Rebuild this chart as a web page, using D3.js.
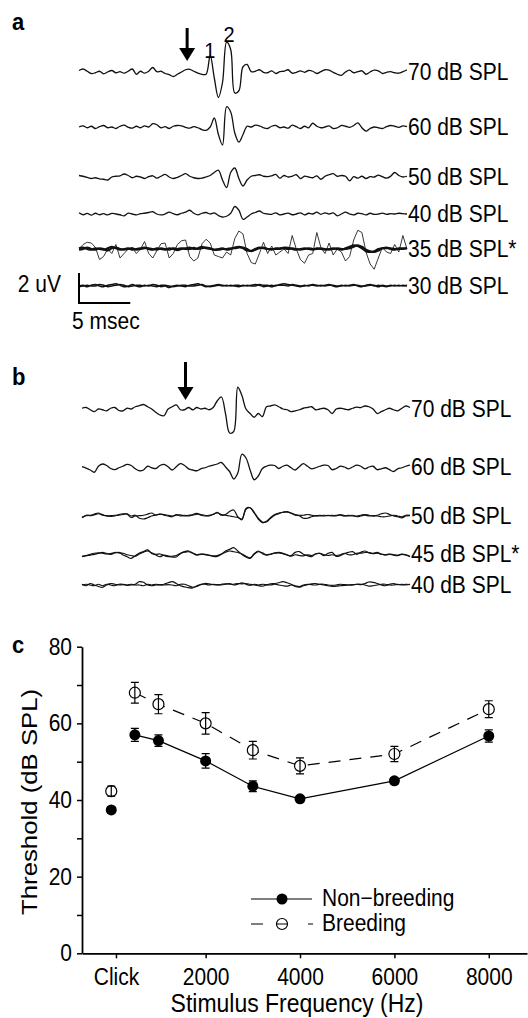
<!DOCTYPE html>
<html>
<head>
<meta charset="utf-8">
<script src="https://cdn.jsdelivr.net/npm/d3@7"></script>
<style>
  body { margin: 0; background: #fff; }
  svg { display: block; font-family: "Liberation Sans", Arial, sans-serif; }
</style>
</head>
<body>
<svg id="chart" width="528" height="1018"></svg>
<script>
// ABR traces: one value (uV) every 0.4 ms, 0..32 ms
const sampleStep = 0.4;

const levelsA = ["70 dB SPL", "60 dB SPL", "50 dB SPL", "40 dB SPL", "35 dB SPL*", "30 dB SPL"];
const levelsB = ["70 dB SPL", "60 dB SPL", "50 dB SPL", "45 dB SPL*", "40 dB SPL"];

const a70 = [0.10, 0.20, 0.05, -0.10, -0.05, 0.05, -0.12, 0.00, 0.10, -0.05,
  0.02, -0.08, 0.05, 0.20, -0.15, 0.05, -0.08, 0.05, 0.30, 0.02,
  0.05, -0.10, -0.18, -0.30, -0.15, 0.00, 0.15, 0.18, 0.05, -0.08,
  -0.16, -0.15, 1.10, -0.40, -1.70, -0.70, 2.00, 1.50, -1.40, -1.25,
  0.35, 0.50, 0.02, 0.05, 0.15, -0.02, -0.05, 0.08, -0.10, 0.02,
  0.05, 0.15, -0.08, -0.02, 0.08, -0.02, 0.10, 0.05, -0.10, 0.02,
  0.15, 0.12, -0.02, -0.15, -0.22, 0.00, 0.12, -0.05, 0.02, 0.08,
  -0.15, 0.00, 0.12, 0.08, -0.10, -0.02, 0.02, -0.05, -0.08, 0.02, 0.15];
const a60 = [0.00, 0.08, -0.05, 0.05, -0.10, 0.02, 0.10, -0.05, 0.00, -0.10,
  0.05, 0.12, -0.02, -0.08, 0.05, -0.05, 0.08, 0.00, 0.22, 0.15,
  -0.05, 0.02, -0.10, 0.05, 0.10, 0.08, -0.02, -0.08, 0.02, -0.05,
  -0.18, -0.22, 0.00, 0.60, -0.50, -1.20, 1.35, 1.00, -0.40, -1.00,
  -0.50, 0.05, 0.00, 0.12, 0.08, -0.05, -0.10, 0.05, 0.10, -0.05,
  0.00, -0.08, 0.12, 0.02, -0.10, 0.05, -0.05, 0.25, 0.05, -0.05,
  0.00, 0.08, -0.10, -0.05, 0.10, 0.05, -0.02, 0.10, 0.28, -0.05,
  -0.28, -0.10, 0.00, -0.05, -0.10, 0.02, 0.10, 0.05, -0.02, 0.08, 0.02];
const a50 = [0.10, 0.05, -0.02, -0.10, -0.05, -0.12, -0.15, -0.20, 0.00, 0.05,
  0.08, 0.20, 0.10, -0.05, 0.05, 0.00, -0.10, 0.02, 0.08, -0.08,
  0.05, 0.18, 0.00, -0.10, -0.02, 0.10, 0.22, 0.05, -0.05, -0.10,
  -0.08, 0.00, 0.10, 0.30, 0.45, -0.20, -0.70, 0.30, 0.60, -0.10,
  -0.60, -0.20, 0.05, 0.10, 0.15, 0.05, 0.02, 0.08, 0.18, -0.08,
  0.10, 0.00, 0.05, 0.15, -0.10, 0.05, 0.00, -0.05, 0.08, -0.15,
  0.05, 0.15, 0.22, 0.05, 0.10, 0.05, -0.25, 0.02, -0.08, 0.05,
  -0.10, 0.02, 0.00, 0.12, 0.02, -0.08, 0.05, 0.30, 0.10, 0.00, 0.05];
const a40 = [0.08, -0.05, 0.04, -0.08, 0.05, -0.05, 0.02, -0.06, 0.04, 0.00,
  -0.05, -0.12, 0.06, 0.00, -0.06, 0.02, 0.05, 0.10, 0.15, 0.00,
  -0.06, 0.00, 0.12, 0.02, -0.05, 0.05, 0.12, 0.25, 0.05, -0.06,
  0.05, 0.10, 0.00, 0.08, -0.10, -0.20, -0.15, 0.05, 0.50, 0.25,
  -0.35, -0.20, 0.00, 0.10, 0.20, 0.05, 0.00, -0.02, 0.08, -0.06,
  0.00, 0.06, -0.05, 0.00, 0.08, -0.06, 0.05, 0.00, 0.12, -0.02,
  0.08, 0.00, 0.08, -0.12, 0.00, 0.12, 0.00, -0.06, 0.05, 0.02,
  -0.06, 0.05, -0.02, 0.00, 0.06, -0.02, 0.02, 0.00, 0.05, 0.02, 0.00];
// 35 dB: one noisy sweep and two flat averages
const a35noisy = [0.00, 0.30, 0.45, 0.40, 0.10, -0.70, -0.50, 0.00, -0.30, 0.30,
  -0.60, -0.30, 0.00, 0.10, -0.30, 0.00, 0.50, -0.30, -0.60, -0.10,
  0.35, 0.40, -0.60, -0.30, 0.30, 0.55, 0.60, -0.50, -0.80, -0.60,
  0.35, 0.65, 0.40, -0.40, -0.50, -0.60, -0.20, -0.40, 0.70, 1.20,
  1.00, -0.30, -0.90, -1.00, -0.30, 0.45, -0.30, 0.20, -0.40, -0.20,
  0.00, -0.30, 0.90, 0.00, -0.70, -0.95, -0.40, -0.30, 1.10, 0.10,
  -0.30, 0.40, -0.40, 0.00, -0.20, -0.80, -0.50, 0.60, 1.25, 1.10,
  -0.20, -1.00, -1.35, -0.60, 0.10, -0.20, -0.30, 0.30, -0.20, 0.90, 0.00];
const a35a = [0.05, 0.10, 0.00, -0.05, 0.05, 0.00, -0.05, 0.05, 0.15, 0.05,
  -0.05, 0.00, 0.05, -0.05, 0.00, 0.05, 0.10, 0.00, -0.05, 0.05,
  0.00, -0.05, 0.05, 0.00, -0.08, 0.00, 0.05, 0.10, 0.00, 0.05,
  0.15, 0.05, 0.00, -0.05, 0.00, 0.05, -0.05, 0.00, 0.10, 0.15,
  0.05, -0.10, -0.12, 0.00, 0.10, 0.05, 0.00, -0.05, 0.05, 0.00,
  0.10, 0.08, 0.00, -0.05, 0.00, 0.05, 0.00, -0.05, 0.05, 0.00,
  -0.05, 0.00, 0.05, 0.00, -0.05, 0.05, 0.15, 0.25, 0.20, 0.05,
  -0.15, -0.20, -0.15, 0.00, 0.05, 0.10, 0.00, -0.05, 0.05, 0.00, 0.05];
const a35b = [-0.05, 0.00, 0.10, 0.00, -0.05, 0.05, 0.00, -0.10, 0.05, 0.10,
  0.00, -0.05, 0.00, 0.05, -0.05, 0.00, 0.05, 0.05, 0.00, -0.05,
  0.05, 0.00, -0.05, 0.05, 0.00, 0.05, 0.00, 0.00, 0.08, 0.00,
  0.05, 0.10, 0.05, -0.05, -0.05, 0.00, 0.00, 0.05, 0.05, 0.10,
  0.10, 0.00, -0.15, -0.05, 0.05, 0.10, 0.00, 0.00, 0.00, 0.05,
  0.05, 0.00, 0.05, 0.00, -0.05, 0.00, 0.05, 0.00, 0.00, 0.05,
  0.00, -0.05, 0.00, 0.05, 0.00, 0.00, 0.05, 0.15, 0.25, 0.15,
  -0.05, -0.15, -0.20, -0.10, 0.05, 0.05, 0.05, 0.00, 0.00, 0.05, 0.05];
const a30a = [0.00, 0.05, -0.05, 0.05, 0.10, 0.00, -0.05, 0.05, 0.10, 0.15,
  0.05, -0.05, 0.00, 0.10, 0.00, -0.05, 0.05, 0.00, 0.10, 0.05,
  -0.05, 0.00, -0.10, 0.00, 0.05, 0.00, -0.05, 0.05, 0.10, 0.15,
  0.05, -0.05, 0.00, 0.05, 0.10, 0.05, 0.00, 0.05, 0.00, -0.05,
  0.05, 0.00, 0.05, 0.10, 0.05, -0.05, 0.00, 0.05, 0.00, 0.10,
  0.15, 0.10, 0.05, 0.00, -0.05, 0.05, 0.00, 0.10, 0.05, 0.00,
  0.05, 0.10, 0.00, -0.05, 0.05, 0.00, 0.05, 0.10, 0.00, -0.05,
  0.05, 0.10, 0.00, 0.05, 0.00, -0.05, 0.05, 0.00, 0.05, 0.00, 0.05];
const a30b = [-0.05, 0.00, 0.05, 0.00, 0.00, 0.10, 0.05, -0.05, 0.00, 0.05,
  0.10, 0.05, -0.05, 0.00, 0.05, 0.05, 0.00, 0.05, 0.00, -0.05,
  0.05, 0.05, 0.00, -0.05, 0.00, 0.05, 0.05, 0.00, 0.00, 0.05,
  0.10, 0.00, -0.05, 0.00, 0.05, 0.00, 0.05, 0.00, 0.05, 0.05,
  0.00, 0.05, 0.00, 0.00, 0.10, 0.05, 0.05, -0.05, 0.05, 0.05,
  0.05, 0.00, 0.10, 0.05, 0.00, 0.00, 0.05, 0.05, 0.00, 0.05,
  0.00, 0.05, 0.05, 0.00, 0.00, 0.05, 0.00, 0.05, 0.05, 0.00,
  0.00, 0.05, 0.05, -0.05, 0.05, 0.00, 0.00, 0.05, 0.00, 0.05, 0.00];

const b70 = [0.05, 0.10, -0.05, -0.18, 0.00, -0.05, -0.12, 0.05, 0.10, -0.10,
  -0.12, 0.05, 0.00, 0.15, 0.22, 0.30, 0.15, 0.00, -0.22, -0.40,
  -0.45, 0.00, 0.15, 0.28, -0.05, -0.05, 0.10, -0.05, 0.10, 0.00,
  0.05, -0.05, 0.10, 0.55, 0.80, -0.30, -1.60, -1.50, 1.45, 0.90,
  0.00, -0.30, -0.55, -0.30, -0.50, 0.15, 0.20, 0.28, 0.15, 0.00,
  -0.05, -0.18, -0.12, -0.05, 0.05, 0.10, 0.15, -0.05, 0.00, 0.05,
  -0.05, -0.30, 0.00, 0.05, 0.00, -0.05, 0.05, 0.12, 0.10, 0.20,
  0.15, 0.00, -0.30, -0.18, -0.05, 0.05, -0.05, -0.12, 0.05, 0.20, 0.10];
const b60 = [0.02, -0.08, -0.20, -0.35, 0.05, 0.20, 0.10, -0.10, -0.18, -0.05,
  0.05, 0.18, 0.10, -0.12, -0.25, -0.20, 0.05, -0.05, -0.10, 0.10,
  0.18, 0.02, -0.20, 0.02, 0.22, 0.10, -0.12, -0.20, -0.25, -0.12,
  -0.05, 0.05, 0.12, 0.20, 0.30, 0.00, -0.30, -0.80, -0.40, 0.85,
  0.60, -0.20, -0.85, -0.60, -0.10, 0.05, 0.12, 0.10, -0.10, 0.05,
  0.12, -0.05, -0.20, 0.02, 0.22, 0.05, -0.12, -0.05, 0.05, 0.12,
  0.10, -0.18, -0.10, 0.05, 0.00, -0.12, 0.00, 0.12, 0.05, -0.12,
  0.00, 0.05, -0.18, -0.12, -0.05, -0.18, -0.30, -0.12, -0.05, 0.05, 0.12];
const b50a = [-0.12, 0.02, 0.05, 0.12, 0.20, 0.05, 0.02, -0.02, 0.00, 0.10,
  0.15, 0.12, -0.10, 0.00, 0.02, 0.05, 0.12, 0.20, 0.05, 0.15,
  0.05, 0.00, -0.05, 0.10, 0.00, 0.05, 0.00, 0.10, 0.18, 0.05,
  0.00, 0.05, 0.10, 0.25, 0.05, 0.10, 0.30, 0.40, -0.05, -0.25,
  0.50, 0.55, 0.20, -0.20, -0.45, -0.35, -0.10, 0.10, 0.20, 0.25,
  0.30, 0.18, 0.05, 0.02, -0.15, -0.15, -0.05, 0.02, 0.00, 0.05,
  0.02, 0.05, 0.00, 0.10, 0.02, 0.00, 0.05, -0.05, 0.00, 0.05,
  0.00, 0.02, 0.05, 0.15, 0.20, 0.10, 0.00, -0.05, -0.12, 0.00, 0.02];
const b50b = [-0.08, 0.05, 0.02, 0.08, 0.15, 0.10, 0.00, 0.02, 0.05, 0.05,
  0.10, 0.15, 0.00, 0.05, -0.15, -0.20, -0.12, 0.00, 0.08, 0.10,
  0.10, 0.05, 0.00, 0.05, 0.08, 0.00, 0.05, 0.05, 0.12, 0.10,
  0.05, 0.00, 0.12, 0.20, 0.10, 0.05, 0.00, -0.05, -0.10, -0.20,
  0.45, 0.55, 0.25, -0.15, -0.40, -0.40, -0.15, 0.05, 0.15, 0.25,
  0.25, 0.20, 0.10, 0.05, 0.05, 0.10, 0.05, 0.00, 0.05, 0.00,
  0.05, 0.00, 0.05, 0.05, 0.00, 0.05, 0.00, 0.00, 0.05, 0.10,
  0.05, 0.00, 0.00, -0.05, -0.05, 0.00, 0.05, 0.00, -0.05, 0.05, 0.05];
const b45a = [-0.18, -0.13, -0.07, -0.02, 0.04, 0.11, 0.04, -0.02, 0.07, 0.11,
  -0.07, -0.18, -0.29, -0.11, 0.07, 0.16, 0.27, 0.04, -0.07, -0.18,
  -0.07, -0.13, -0.20, -0.20, 0.02, 0.16, 0.20, 0.07, -0.07, -0.02,
  -0.02, -0.07, -0.16, -0.16, -0.02, 0.20, 0.31, 0.42, 0.20, -0.02,
  -0.20, -0.29, 0.02, 0.20, 0.02, -0.07, -0.02, 0.07, 0.11, 0.04,
  -0.07, -0.11, 0.11, 0.16, -0.02, -0.11, -0.18, 0.02, 0.04, -0.11,
  0.04, 0.11, -0.16, -0.11, 0.02, 0.11, 0.16, -0.02, 0.11, 0.20,
  0.07, 0.04, 0.11, -0.02, -0.07, -0.02, -0.07, -0.11, -0.02, -0.07, -0.18];
const b45b = [-0.15, -0.10, -0.02, 0.05, 0.08, 0.05, 0.00, 0.02, 0.10, 0.08,
  0.05, -0.05, -0.10, -0.15, 0.00, 0.12, 0.20, 0.08, -0.02, 0.00,
  -0.10, -0.18, -0.15, -0.10, 0.05, 0.12, 0.15, 0.05, -0.05, 0.00,
  -0.05, -0.10, -0.12, -0.10, 0.00, 0.12, 0.20, 0.15, 0.10, 0.00,
  -0.15, -0.25, -0.02, 0.15, 0.08, -0.05, 0.00, 0.05, 0.08, 0.02,
  -0.05, -0.15, -0.05, -0.10, -0.12, -0.05, -0.10, 0.00, 0.05, -0.05,
  -0.10, -0.05, -0.10, -0.05, 0.05, -0.05, -0.05, 0.05, 0.05, 0.10,
  0.10, 0.02, 0.05, 0.00, -0.05, 0.00, -0.05, -0.08, 0.00, -0.05, -0.15];
const b40a = [0.05, -0.05, 0.10, 0.00, -0.10, -0.15, 0.00, 0.10, 0.05, 0.00,
  0.02, -0.02, 0.00, 0.05, 0.22, 0.18, 0.00, -0.05, 0.00, 0.02,
  0.05, 0.15, 0.22, 0.10, -0.05, -0.12, -0.18, -0.20, -0.05, 0.02,
  0.10, 0.08, 0.02, 0.00, 0.05, 0.08, 0.05, 0.05, 0.10, 0.08,
  0.10, 0.05, 0.00, -0.05, -0.08, 0.00, 0.08, 0.10, 0.15, 0.22,
  0.15, 0.05, -0.10, -0.15, -0.05, 0.02, 0.08, 0.10, 0.05, 0.00,
  -0.05, -0.10, -0.08, -0.05, -0.02, 0.00, 0.02, 0.05, 0.02, 0.10,
  0.20, 0.18, 0.10, 0.00, -0.05, 0.05, 0.10, 0.02, 0.05, 0.00, 0.05];
const b40b = [0.00, 0.05, 0.00, -0.05, 0.05, -0.05, 0.05, 0.00, -0.05, 0.05,
  0.05, 0.00, 0.05, 0.00, 0.00, -0.05, 0.05, 0.00, 0.05, 0.00,
  0.00, 0.02, 0.00, -0.05, 0.05, 0.05, -0.05, -0.15, -0.10, 0.05,
  0.05, 0.00, 0.05, 0.02, 0.00, 0.05, 0.10, 0.00, 0.05, 0.15,
  0.05, -0.02, 0.05, 0.00, 0.05, 0.02, 0.00, 0.05, 0.00, -0.05,
  -0.08, 0.00, -0.05, -0.10, 0.00, 0.05, 0.02, 0.00, 0.05, 0.05,
  0.00, -0.02, 0.00, 0.05, 0.02, 0.00, 0.00, 0.05, 0.05, 0.00,
  -0.08, -0.05, 0.00, 0.05, 0.05, 0.00, 0.00, 0.05, 0.00, 0.05, 0.02];

const tracesA = [[a70], [a60], [a50], [a40], [a35noisy, a35a, a35b], [a30a, a30b]];
const tracesB = [[b70], [b60], [b50a, b50b], [b45a, b45b], [b40a, b40b]];

// panel c: thresholds (dB SPL), 0 = click
const frequencies = [0, 500, 1000, 2000, 3000, 4000, 6000, 8000];
const nonBreeding = [37.4, 57.0, 55.5, 50.2, 43.6, 40.3, 45.0, 56.7];
const nonBreedingErr = [0.8, 1.7, 1.5, 1.9, 1.4, 0.8, 0.8, 1.6];
const breeding = [42.3, 68.0, 65.0, 60.0, 53.0, 48.9, 52.0, 63.7];
const breedingErr = [1.3, 2.7, 2.5, 2.8, 2.3, 2.1, 2.0, 2.2];
const freqTicks = [100, 2000, 4000, 6000, 8000];
const freqTickLabels = ["Click", "2000", "4000", "6000", "8000"];
const thresholdTicks = [0, 10, 20, 30, 40, 50, 60, 70, 80];

const svg = d3.select("#chart");
const font = "'Liberation Sans', Arial, sans-serif";
const stretch = 1.1; // the figure's lettering is slightly taller than wide

// move x/y into a transform so the glyphs can be stretched vertically
function tallText(sel) {
    sel.each(function () {
        let t = d3.select(this);
        let tx = +t.attr("x") || 0, ty = +t.attr("y") || 0;
        t.attr("x", null).attr("y", null)
            .attr("transform", `translate(${tx},${ty}) scale(1,${stretch})`);
    });
}

// ---------- traces ----------
const tA = d3.scaleLinear().domain([0, 32]).range([79, 407]);
const tB = d3.scaleLinear().domain([0, 32]).range([82, 410]);
const uvPx = 15;
const rowYA = [72, 127, 177, 214, 249, 286];
const rowYB = [409, 467, 516, 554, 585];
const widthsA = [[1.3], [1.3], [1.3], [1.3], [0.9, 2.1, 2.1], [1.5, 1.5]];
const widthsB = [[1.3], [1.3], [1.2, 1.2], [1.2, 1.2], [1.2, 1.2]];

function drawTraces(traces, labels, rowY, tScale, widths, labelX) {
    let g = svg.append("g");
    traces.forEach((set, r) => {
        let yS = d3.scaleLinear().domain([-1, 1]).range([rowY[r] + uvPx, rowY[r] - uvPx]);
        set.forEach((values, k) => {
            let thin = widths[r][k] < 1;
            let line = d3.line()
                .x((d, i) => tScale(i * sampleStep))
                .y(d => yS(d))
                .curve(thin ? d3.curveLinear : d3.curveCatmullRom);
            g.append("path")
                .datum(values)
                .attr("d", line)
                .attr("fill", "none")
                .attr("stroke", thin ? "#222" : "#111")
                .attr("stroke-width", widths[r][k])
                .attr("stroke-linejoin", "round");
        });
        g.append("text")
            .attr("x", labelX)
            .attr("y", rowY[r])
            .attr("dy", "0.36em")
            .attr("font-size", 21)
            .attr("fill", "#000")
            .text(labels[r])
            .call(tallText);
    });
    return g;
}

drawTraces(tracesA, levelsA, rowYA, tA, widthsA, 408);
drawTraces(tracesB, levelsB, rowYB, tB, widthsB, 411);

function arrow(x, yTop, yTip) {
    svg.append("line")
        .attr("x1", x).attr("x2", x)
        .attr("y1", yTop).attr("y2", yTip - 8)
        .attr("stroke", "#000").attr("stroke-width", 3);
    svg.append("path")
        .attr("d", `M${x - 8},${yTip - 13}L${x + 8},${yTip - 13}L${x},${yTip}Z`)
        .attr("fill", "#000");
}
arrow(tA(10.55), 28, 61);
arrow(tB(10.1), 362, 400);

svg.append("text").attr("x", tA(12.75)).attr("y", 58).attr("text-anchor", "middle")
    .attr("font-size", 20).text("1").call(tallText);
svg.append("text").attr("x", tA(14.65)).attr("y", 42).attr("text-anchor", "middle")
    .attr("font-size", 20).text("2").call(tallText);

// scale bar: 2 uV, 5 msec
const barY = 303;
svg.append("path")
    .attr("d", `M${tA(0)},${barY - 2 * uvPx}V${barY}H${tA(5)}`)
    .attr("fill", "none").attr("stroke", "#000").attr("stroke-width", 2);
svg.append("text").attr("x", 61).attr("y", 292).attr("text-anchor", "end")
    .attr("font-size", 21).text("2 uV").call(tallText);
svg.append("text").attr("x", 72).attr("y", 329)
    .attr("font-size", 21).text("5 msec").call(tallText);

// panel letters
[["a", 30], ["b", 385], ["c", 653]].forEach(([t, y]) => {
    svg.append("text").attr("x", 12).attr("y", y)
        .attr("font-size", 22).attr("font-weight", "bold").text(t).call(tallText);
});

// ---------- panel c ----------
const x = d3.scaleLinear().domain([-620, 8810]).range([82, 527]);
const y = d3.scaleLinear().domain([0, 80]).range([953.3, 646.7]);

const yAxis = d3.axisLeft(y)
    .tickValues(thresholdTicks)
    .tickFormat(d => d % 20 === 0 ? d : "")
    .tickSize(5).tickPadding(5).tickSizeOuter(0);
const xAxis = d3.axisBottom(x)
    .tickValues(freqTicks)
    .tickFormat((d, i) => freqTickLabels[i])
    .tickSize(5).tickPadding(10).tickSizeOuter(0);

let gy = svg.append("g").attr("transform", `translate(${x.range()[0]},0)`).call(yAxis);
let gx = svg.append("g").attr("transform", `translate(0,${y(0)})`).call(xAxis);
[gx, gy].forEach(g => {
    g.attr("font-family", font).attr("font-size", 21);
    g.select(".domain").attr("stroke", "#000").attr("stroke-width", 1.8);
    g.selectAll(".tick line").attr("stroke", "#000").attr("stroke-width", 1.5);
    g.selectAll(".tick text").attr("fill", "#000").call(tallText);
});

svg.append("text")
    .attr("x", 297).attr("y", 1012)
    .attr("text-anchor", "middle").attr("font-size", 23)
    .text("Stimulus Frequency (Hz)").call(tallText);
svg.append("text")
    .attr("transform", `translate(37,${y(39.5)}) rotate(-90) scale(1.12,1)`)
    .attr("text-anchor", "middle").attr("font-size", 23)
    .text("Threshold (dB SPL)");

const tones = d3.range(1, frequencies.length);
const nbLine = d3.line().x(i => x(frequencies[i])).y(i => y(nonBreeding[i]));
const brLine = d3.line().x(i => x(frequencies[i])).y(i => y(breeding[i]));

let plot = svg.append("g");
plot.append("path").datum(tones).attr("d", nbLine)
    .attr("fill", "none").attr("stroke", "#000").attr("stroke-width", 1.2);
plot.append("path").datum(tones).attr("d", brLine)
    .attr("fill", "none").attr("stroke", "#000").attr("stroke-width", 1.2)
    .attr("stroke-dasharray", "12,9");

const r = 5.5, cap = 4;
function errorBars(vals, errs) {
    frequencies.forEach((f, i) => {
        let cx = x(f), lo = y(vals[i] - errs[i]), hi = y(vals[i] + errs[i]);
        plot.append("path")
            .attr("d", `M${cx},${lo}V${hi}M${cx - cap},${lo}H${cx + cap}M${cx - cap},${hi}H${cx + cap}`)
            .attr("fill", "none").attr("stroke", "#000").attr("stroke-width", 1.2);
    });
}

plot.selectAll("circle.nb").data(frequencies).join("circle")
    .attr("class", "nb")
    .attr("cx", d => x(d)).attr("cy", (d, i) => y(nonBreeding[i])).attr("r", r)
    .attr("fill", "#000");
plot.selectAll("circle.br").data(frequencies).join("circle")
    .attr("class", "br")
    .attr("cx", d => x(d)).attr("cy", (d, i) => y(breeding[i])).attr("r", r)
    .attr("fill", "#fff").attr("stroke", "#000").attr("stroke-width", 1.2);
errorBars(nonBreeding, nonBreedingErr);
errorBars(breeding, breedingErr);

// legend
let lg = svg.append("g");
lg.append("line").attr("x1", 251).attr("x2", 312).attr("y1", 899).attr("y2", 899)
    .attr("stroke", "#000").attr("stroke-width", 1.2);
lg.append("circle").attr("cx", 282).attr("cy", 899).attr("r", r).attr("fill", "#000");
lg.append("text").attr("x", 322).attr("y", 898).attr("dy", "0.35em")
    .attr("font-size", 21).text("Non\u2212breeding").call(tallText);
lg.append("line").attr("x1", 251).attr("x2", 313).attr("y1", 924).attr("y2", 924)
    .attr("stroke", "#000").attr("stroke-width", 1.2)
    .attr("stroke-dasharray", "12,13,11,21,5");
lg.append("circle").attr("cx", 282).attr("cy", 924).attr("r", r)
    .attr("fill", "none").attr("stroke", "#000").attr("stroke-width", 1.2);
lg.append("text").attr("x", 322).attr("y", 923).attr("dy", "0.35em")
    .attr("font-size", 21).text("Breeding").call(tallText);
</script>
</body>
</html>
